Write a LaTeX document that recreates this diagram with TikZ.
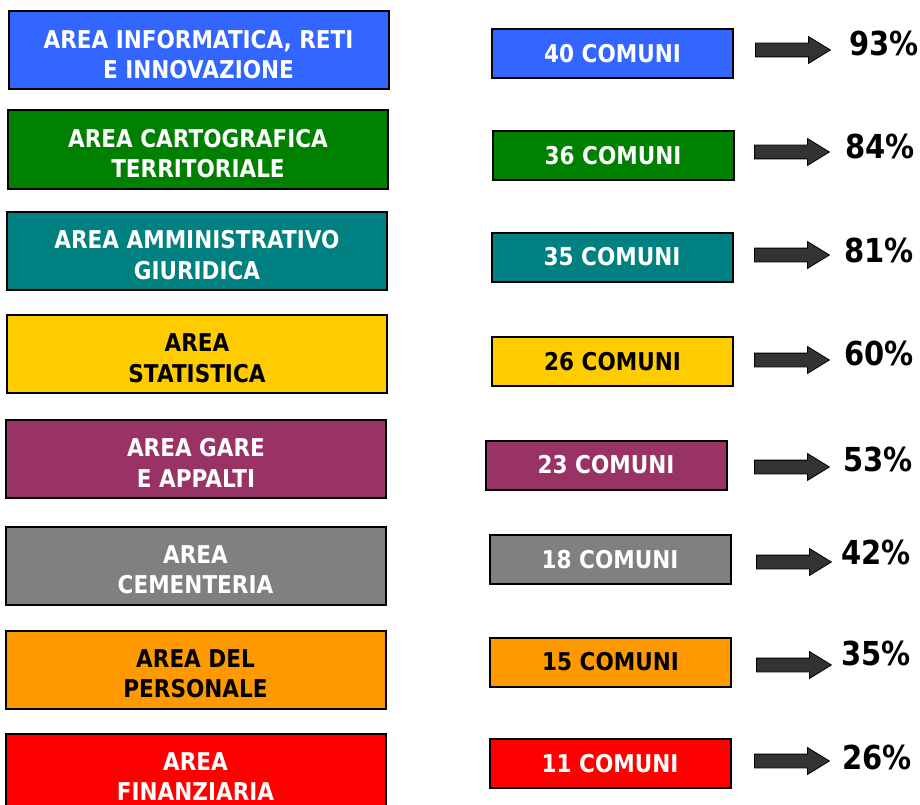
\documentclass[tikz,border=0pt]{standalone}
\usepackage{fontspec}
\setmainfont{DejaVu Sans}[FakeStretch=0.88]
\usetikzlibrary{shapes.arrows}

\definecolor{areablue}{HTML}{3366FF}
\definecolor{areagreen}{HTML}{008000}
\definecolor{areateal}{HTML}{008080}
\definecolor{areayellow}{HTML}{FFCC00}
\definecolor{areapurple}{HTML}{993366}
\definecolor{areagray}{HTML}{808080}
\definecolor{areaorange}{HTML}{FF9900}
\definecolor{areared}{HTML}{FF0000}
\definecolor{arrowgray}{HTML}{333333}

\tikzset{
    areabox/.style={
        draw=black,line width=2pt,
        minimum width=380pt,minimum height=78pt,
        inner sep=0pt
    },
    areatext/.style={
        font=\bfseries\fontsize{24.5}{30.5}\selectfont,
        align=center,inner sep=0pt
    },
    comunibox/.style={
        draw=black,line width=2pt,
        minimum width=241pt,minimum height=49pt,
        inner sep=0pt,
        font=\bfseries\fontsize{24.5}{30.5}\selectfont
    },
    bigarrow/.style={
        single arrow,draw=black,line width=0.8pt,fill=arrowgray,
        minimum height=75pt,minimum width=26pt,
        text height=0pt,text depth=0pt,text width=0pt,
        inner xsep=0pt,inner ysep=6.5pt,
        single arrow head extend=6.5pt,
        single arrow head indent=0pt,
        single arrow tip angle=63,
        anchor=tail
    },
    percent/.style={
        font=\bfseries\fontsize{33}{36}\selectfont,
        inner sep=0pt
    }
}

\begin{document}
\begin{tikzpicture}[x=1pt,y=-1pt]
    \useasboundingbox[fill=white] (0,0) rectangle (920,805);

    \node[areabox,fill=areablue] (area1) at (198.5,50.5) {};
    \node[areatext,text=white] at ([yshift=-4pt]area1.center) {AREA INFORMATICA, RETI\\E INNOVAZIONE};
    \node[comunibox,fill=areablue,text=white] (comuni1) at (612.5,53.5) {40 COMUNI};
    \node[bigarrow] (arrow1) at (755,50) {};
    \node[percent] (perc1) at (884,43) {93\%};

    \node[areabox,fill=areagreen] (area2) at (198,149.5) {};
    \node[areatext,text=white] at ([yshift=-4pt]area2.center) {AREA CARTOGRAFICA\\TERRITORIALE};
    \node[comunibox,fill=areagreen,text=white] (comuni2) at (613,155.5) {36 COMUNI};
    \node[bigarrow] (arrow2) at (754,152) {};
    \node[percent] (perc2) at (880,146) {84\%};

    \node[areabox,fill=areateal] (area3) at (197,251) {};
    \node[areatext,text=white] at ([yshift=-4pt]area3.center) {AREA AMMINISTRATIVO\\GIURIDICA};
    \node[comunibox,fill=areateal,text=white] (comuni3) at (612,257) {35 COMUNI};
    \node[bigarrow] (arrow3) at (754,255) {};
    \node[percent] (perc3) at (879,250) {81\%};

    \node[areabox,fill=areayellow] (area4) at (197,354) {};
    \node[areatext,text=black] at ([yshift=-4pt]area4.center) {AREA\\STATISTICA};
    \node[comunibox,fill=areayellow,text=black] (comuni4) at (612.5,361.5) {26 COMUNI};
    \node[bigarrow] (arrow4) at (754,360) {};
    \node[percent] (perc4) at (879,353) {60\%};

    \node[areabox,fill=areapurple] (area5) at (196,459) {};
    \node[areatext,text=white] at ([yshift=-4pt]area5.center) {AREA GARE\\E APPALTI};
    \node[comunibox,fill=areapurple,text=white] (comuni5) at (606,465) {23 COMUNI};
    \node[bigarrow] (arrow5) at (754,467) {};
    \node[percent] (perc5) at (878,459) {53\%};

    \node[areabox,fill=areagray] (area6) at (195.5,565.5) {};
    \node[areatext,text=white] at ([yshift=-4pt]area6.center) {AREA\\CEMENTERIA};
    \node[comunibox,fill=areagray,text=white] (comuni6) at (610,559.5) {18 COMUNI};
    \node[bigarrow] (arrow6) at (756,562) {};
    \node[percent] (perc6) at (876,552) {42\%};

    \node[areabox,fill=areaorange] (area7) at (195.5,669.5) {};
    \node[areatext,text=black] at ([yshift=-4pt]area7.center) {AREA DEL\\PERSONALE};
    \node[comunibox,fill=areaorange,text=black] (comuni7) at (610.5,662) {15 COMUNI};
    \node[bigarrow] (arrow7) at (756,665) {};
    \node[percent] (perc7) at (876,653) {35\%};

    \node[areabox,fill=areared] (area8) at (195.5,772.5) {};
    \node[areatext,text=white] at ([yshift=-4pt]area8.center) {AREA\\FINANZIARIA};
    \node[comunibox,fill=areared,text=white] (comuni8) at (610,763.5) {11 COMUNI};
    \node[bigarrow] (arrow8) at (754,761) {};
    \node[percent] (perc8) at (877,757) {26\%};
\end{tikzpicture}
\end{document}
